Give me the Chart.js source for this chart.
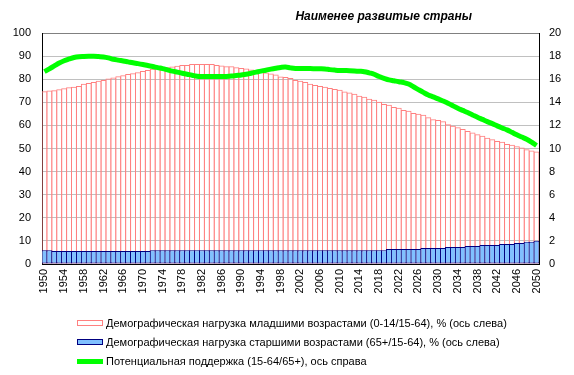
<!DOCTYPE html>
<html>
<head>
<meta charset="utf-8">
<script src="https://cdn.jsdelivr.net/npm/chart.js@4"></script>
<style>
    body { margin: 0; background: #fff; font-family: "Liberation Sans", Arial, sans-serif; }
    #wrap { position: relative; width: 574px; height: 375px; }
    #title { position: absolute; right: 102px; top: 9px; font-size: 12px; font-weight: bold; font-style: italic; color: #000; }
    .lg { position: absolute; left: 77px; height: 14px; font-size: 11px; color: #000; line-height: 14px; white-space: nowrap; }
    .lg i { display: inline-block; position: absolute; left: 0; top: 4px; width: 26px; box-sizing: border-box; }
    .lg span { position: absolute; left: 29px; top: 0; }
</style>
</head>
<body>
<div id="wrap">
    <canvas id="chart"></canvas>
    <div id="title">Наименее  развитые  страны</div>
    <div class="lg" style="top:316px"><i style="height:6px;border:1px solid #ff8080;background:#fff"></i><span>Демографическая нагрузка младшими возрастами (0-14/15-64), % (ось слева)</span></div>
    <div class="lg" style="top:335px"><i style="height:6px;border:1px solid #000080;background:#80c0ff"></i><span>Демографическая нагрузка старшими возрастами (65+/15-64), % (ось слева)</span></div>
    <div class="lg" style="top:354px"><i style="height:5px;top:5px;background:#00ff00"></i><span>Потенциальная поддержка (15-64/65+), ось справа</span></div>
</div>
<script>
    'use strict';

    // Years 1950..2050
    var years = [];
    for (var y = 1950; y <= 2050; y++) {
        years.push(String(y));
    }

    // Young-age dependency, % (left axis)
    var youngRatio = [
        74.8, 75.1, 75.2, 75.7, 76.1, 76.5, 76.7, 77.1, 78.0, 78.4,
        78.8, 79.3, 79.7, 80.3, 80.7, 81.3, 81.7, 82.2, 82.6, 83.0,
        83.5, 84.0, 84.5, 84.9, 85.2, 85.2, 85.5, 85.8, 86.2, 86.2,
        86.6, 86.6, 86.6, 86.6, 86.6, 86.2, 85.9, 85.6, 85.6, 85.2,
        84.9, 84.6, 84.2, 83.8, 83.3, 82.9, 82.5, 82.0, 81.2, 80.9,
        80.5, 79.7, 79.3, 78.8, 78.0, 77.5, 77.1, 76.7, 76.2, 75.8,
        75.4, 74.7, 74.2, 73.7, 72.8, 72.4, 71.5, 71.1, 70.2, 69.3,
        68.9, 68.0, 67.6, 66.7, 66.3, 65.4, 65.0, 64.6, 63.5, 62.7,
        62.3, 61.8, 60.5, 59.8, 59.2, 58.4, 57.6, 56.9, 56.2, 55.5,
        54.7, 54.0, 53.3, 52.9, 52.0, 51.6, 51.0, 50.4, 49.7, 49.1,
        48.7
    ];

    // Old-age dependency, % (left axis)
    var oldRatio = [
        6.0, 6.0, 5.6, 5.6, 5.6, 5.6, 5.6, 5.6, 5.6, 5.6,
        5.6, 5.6, 5.6, 5.6, 5.6, 5.6, 5.6, 5.6, 5.6, 5.6,
        5.6, 5.6, 6.0, 6.0, 6.0, 6.0, 6.0, 6.0, 6.0, 6.0,
        6.0, 6.0, 6.0, 6.0, 6.0, 6.0, 6.0, 6.0, 6.0, 6.0,
        6.0, 6.0, 6.0, 6.0, 6.0, 6.0, 6.0, 6.0, 6.0, 6.0,
        6.0, 6.0, 6.0, 6.0, 6.0, 6.0, 6.0, 6.0, 6.0, 6.0,
        6.0, 6.0, 6.0, 6.0, 6.0, 6.0, 6.0, 6.0, 6.0, 6.0,
        6.5, 6.5, 6.5, 6.5, 6.5, 6.5, 6.5, 6.9, 6.9, 6.9,
        6.9, 6.9, 7.4, 7.4, 7.4, 7.4, 7.8, 7.8, 7.8, 8.2,
        8.2, 8.2, 8.2, 8.7, 8.7, 8.7, 9.1, 9.1, 9.6, 9.6,
        10.1
    ];

    // Potential support ratio (right axis)
    var supportRatio = [
        16.66, 16.90, 17.15, 17.40, 17.60, 17.75, 17.88, 17.95, 17.97, 17.98,
        17.98, 17.96, 17.93, 17.85, 17.73, 17.65, 17.58, 17.50, 17.42, 17.35,
        17.27, 17.18, 17.10, 17.00, 16.92, 16.81, 16.70, 16.61, 16.52, 16.43,
        16.34, 16.26, 16.24, 16.23, 16.23, 16.23, 16.23, 16.24, 16.27, 16.32,
        16.37, 16.43, 16.52, 16.61, 16.70, 16.78, 16.87, 16.95, 17.02, 17.05,
        16.98, 16.93, 16.92, 16.92, 16.92, 16.91, 16.90, 16.88, 16.83, 16.79,
        16.76, 16.75, 16.74, 16.72, 16.69, 16.65, 16.55, 16.43, 16.23, 16.08,
        15.94, 15.86, 15.78, 15.71, 15.58, 15.35, 15.10, 14.86, 14.64, 14.47,
        14.30, 14.11, 13.92, 13.70, 13.49, 13.30, 13.11, 12.91, 12.71, 12.52,
        12.33, 12.15, 11.96, 11.78, 11.61, 11.40, 11.18, 10.99, 10.80, 10.55,
        10.26
    ];

    var leftTicks = [0, 10, 20, 30, 40, 50, 60, 70, 80, 90, 100];
    var rightTicks = [0, 2, 4, 6, 8, 10, 12, 14, 16, 18, 20];

    var tickFont = { family: 'Liberation Sans, Arial, sans-serif', size: 11 };

    var ctx = document.getElementById('chart').getContext('2d');
    new Chart(ctx, {
        type: 'bar',
        data: {
            labels: years,
            datasets: [{
                type: 'line',
                data: supportRatio,
                yAxisID: 'y2',
                borderColor: '#00ff00',
                borderWidth: 5,
                pointRadius: 0,
                tension: 0.4,
                order: 0
            }, {
                data: oldRatio,
                yAxisID: 'y',
                backgroundColor: '#80c0ff',
                borderColor: '#000080',
                borderWidth: 1,
                borderSkipped: false,
                grouped: false,
                barPercentage: 1.2,
                categoryPercentage: 1,
                order: 1
            }, {
                data: youngRatio,
                yAxisID: 'y',
                backgroundColor: 'rgba(255,255,255,0)',
                borderColor: '#ff8080',
                borderWidth: 1,
                borderSkipped: false,
                grouped: false,
                barPercentage: 1.2,
                categoryPercentage: 1,
                order: 2
            }]
        },
        options: {
            responsive: true,
            maintainAspectRatio: false,
            animation: false,
            layout: { padding: { top: 33, bottom: 81, left: 0, right: 0 } },
            plugins: {
                legend: { display: false },
                tooltip: { enabled: false }
            },
            scales: {
                x: {
                    grid: { display: false, drawTicks: false },
                    border: { display: true, color: '#000000' },
                    afterFit: function (s) { s.height = 30; },
                    ticks: {
                        autoSkip: false,
                        minRotation: 90,
                        maxRotation: 90,
                        padding: 5,
                        color: '#000',
                        font: tickFont,
                        callback: function (v, i) {
                            return i % 4 === 0 ? years[i] : null;
                        }
                    }
                },
                y: {
                    position: 'left',
                    min: 0,
                    max: 100,
                    afterFit: function (s) { s.width = 42; },
                    afterBuildTicks: function (s) {
                        s.ticks = leftTicks.map(function (v) { return { value: v }; });
                    },
                    border: { display: true, color: '#000000' },
                    grid: {
                        drawTicks: false,
                        color: function (c) { return c.tick && c.tick.value === 100 ? '#808080' : '#c0c0c0'; }
                    },
                    ticks: { padding: 11, color: '#000', font: tickFont }
                },
                y2: {
                    position: 'right',
                    min: 0,
                    max: 20,
                    afterFit: function (s) { s.width = 35; },
                    afterBuildTicks: function (s) {
                        s.ticks = rightTicks.map(function (v) { return { value: v }; });
                    },
                    border: { display: true, color: '#000000' },
                    grid: { display: false, drawTicks: false },
                    ticks: { padding: 10, color: '#000', font: tickFont }
                }
            }
        }
    });
</script>
</body>
</html>
